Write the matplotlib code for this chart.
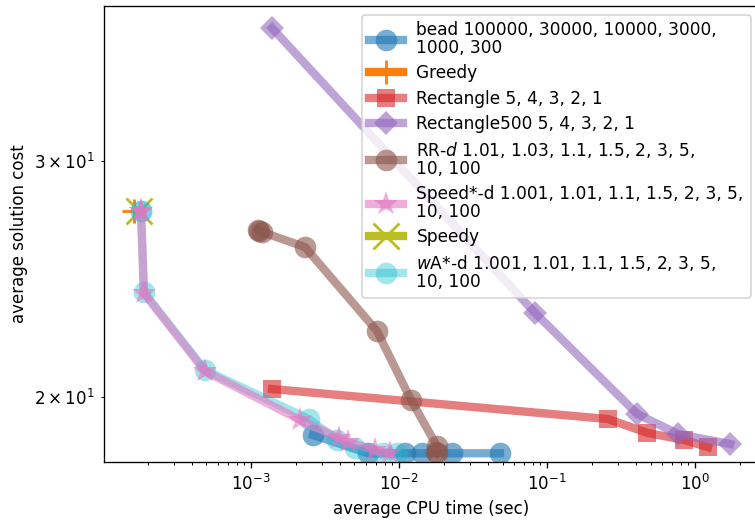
import numpy as np
import matplotlib
matplotlib.use("Agg")
import matplotlib.pyplot as plt

# average CPU time (sec) / average solution cost per algorithm
bead_x = [4.81e-2, 2.28e-2, 1.43e-2, 1.10e-2, 6.17e-3, 2.62e-3]
bead_y = [18.16, 18.16, 18.16, 18.16, 18.16, 18.74]

greedy_x = [1.62e-4]
greedy_y = [27.54]

rect_x = [1.224, 0.843, 0.474, 0.258, 1.386e-3]
rect_y = [18.35, 18.58, 18.81, 19.26, 20.28]

rect500_x = [1.724, 0.768, 0.406, 8.30e-2, 1.386e-3]
rect500_y = [18.45, 18.77, 19.43, 23.11, 37.71]

rrd_x = [1.806e-2, 1.778e-2, 1.806e-2, 1.205e-2, 7.10e-3, 2.317e-3, 1.187e-3, 1.132e-3, 1.116e-3]
rrd_y = [18.16, 18.20, 18.38, 19.90, 22.40, 25.88, 26.56, 26.61, 26.65]

speedstar_x = [8.69e-3, 6.88e-3, 4.52e-3, 3.93e-3, 2.144e-3, 4.89e-4, 1.89e-4, 1.806e-4, 1.806e-4]
speedstar_y = [18.16, 18.26, 18.51, 18.64, 19.23, 20.91, 23.91, 27.54, 27.54]

speedy_x = [1.75e-4]
speedy_y = [27.54]

wastar_x = [9.69e-3, 7.79e-3, 5.04e-3, 3.81e-3, 2.465e-3, 4.89e-4, 1.89e-4, 1.806e-4, 1.806e-4]
wastar_y = [18.16, 18.16, 18.32, 18.58, 19.26, 20.95, 23.95, 27.54, 27.54]

labels = [
    "bead 100000, 30000, 10000, 3000,\n1000, 300",
    "Greedy",
    "Rectangle 5, 4, 3, 2, 1",
    "Rectangle500 5, 4, 3, 2, 1",
    "RR-$d$ 1.01, 1.03, 1.1, 1.5, 2, 3, 5,\n10, 100",
    "Speed*-d 1.001, 1.01, 1.1, 1.5, 2, 3, 5,\n10, 100",
    "Speedy",
    "$w$A*-d 1.001, 1.01, 1.1, 1.5, 2, 3, 5,\n10, 100",
]

fig = plt.figure(figsize=(755 / 120, 529 / 120), dpi=120)
# axes runs a little past the right edge, like the cropped original
ax = fig.add_axes([104 / 755, 67 / 529, 655 / 755, 456 / 529])

lw = 5
ax.plot(bead_x, bead_y, "o-", color="#1f77b4", lw=lw, ms=13, mew=0, alpha=0.6, label=labels[0])
ax.plot(greedy_x, greedy_y, "+-", color="#ff7f0e", lw=lw, ms=14, mew=1.7, label=labels[1])
ax.plot(rect_x, rect_y, "s-", color="#d62728", lw=lw, ms=11, mew=0, alpha=0.6, label=labels[2])
ax.plot(rect500_x, rect500_y, "D-", color="#9467bd", lw=lw, ms=10.5, mew=0, alpha=0.6, label=labels[3])
ax.plot(rrd_x, rrd_y, "o-", color="#8c564b", lw=lw, ms=13, mew=0, alpha=0.6, label=labels[4])
ax.plot(speedstar_x, speedstar_y, "*-", color="#e377c2", lw=lw, ms=15.5, mew=0, alpha=0.6,
        label=labels[5], zorder=2.6)
ax.plot(speedy_x, speedy_y, "x-", color="#bcbd22", lw=lw, ms=16, mew=1.7, label=labels[6])
ax.plot(wastar_x, wastar_y, "o-", color="#17becf", lw=lw, ms=13, mew=0, alpha=0.4,
        label=labels[7], zorder=2.4)

ax.set_xscale("log")
ax.set_yscale("log")
ax.set_xlim(1.016e-4, 2.70)
ax.set_ylim(17.89, 39.16)

ax.set_xlabel("average CPU time (sec)")
ax.set_ylabel("average solution cost")
leg = ax.legend(loc="upper right", labelspacing=0.42, prop={"size": 10.2})
for t in leg.get_texts():
    t.set_linespacing(1.0)

fig.savefig("out.png", dpi=120)
